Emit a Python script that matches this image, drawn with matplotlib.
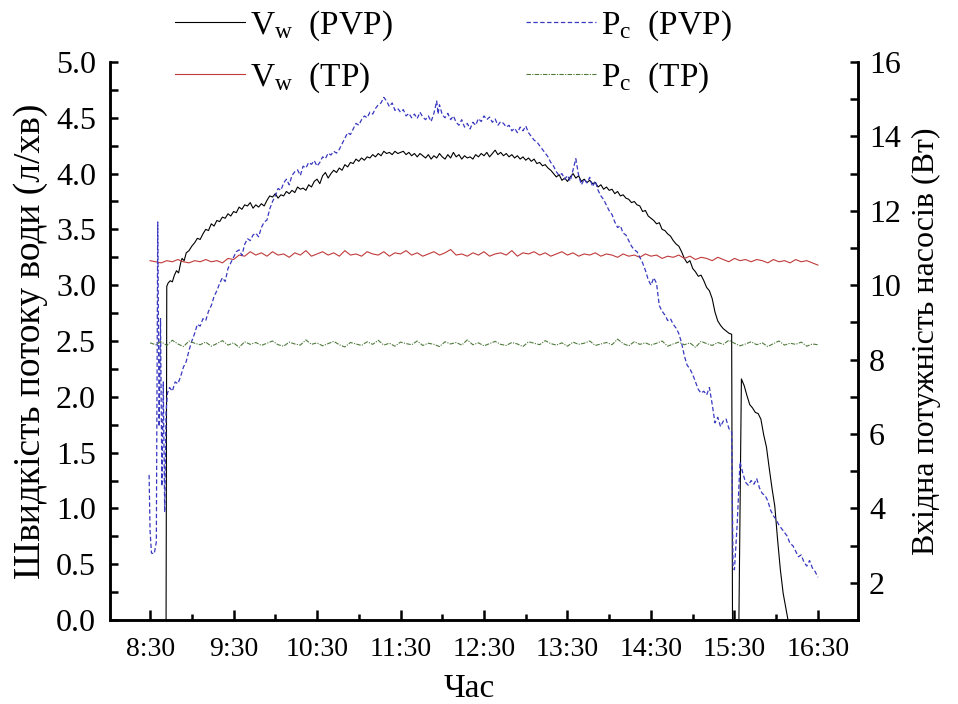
import numpy as np
import matplotlib
matplotlib.use('Agg')
import matplotlib.pyplot as plt
from matplotlib.ticker import MultipleLocator, FuncFormatter

plt.rcParams['font.family'] = ['Liberation Serif', 'DejaVu Serif']
plt.rcParams['mathtext.fontset'] = 'custom'
plt.rcParams['mathtext.rm'] = 'Liberation Serif'
plt.rcParams['mathtext.it'] = 'Liberation Serif'

# times are minutes after 8:00
# V_w (PVP), л/хв
vw_pvp_min = [41.5, 42, 43, 44.5, 46, 47.5, 49, 50.5, 52, 53, 54.5, 56, 58, 60, 62, 64, 66, 68, 70, 72,
              74, 76, 78, 80, 82, 84, 86, 88, 90, 92, 94, 96, 98, 100, 102, 104, 106, 108, 110, 112,
              114, 116, 118, 120, 122, 124, 126, 128, 130, 132, 134, 136, 138, 140, 142, 144, 146, 148, 150, 152,
              154, 156, 158, 160, 162, 164, 166, 168, 170, 172, 174, 176, 178, 180, 182, 184, 186, 188, 190, 192,
              194, 196, 198, 200, 202, 204, 206, 208, 210, 212, 214, 216, 218, 220, 222, 224, 226, 228, 230, 232,
              234, 236, 238, 240, 242, 244, 246, 248, 250, 252, 254, 256, 258, 260, 262, 264, 266, 268, 270, 272,
              274, 276, 278, 280, 282, 284, 286, 288, 290, 292, 294, 296, 298, 300, 302, 304, 306, 308, 310, 312,
              314, 316, 318, 320, 322, 324, 326, 328, 330, 332, 334, 336, 338, 340, 342, 344, 346, 348, 350, 352,
              354, 356, 358, 360, 362, 364, 366, 368, 370, 372, 374, 376, 378, 380, 382, 384, 386, 388, 390, 392,
              394, 396, 398, 400, 402, 404, 406, 408, 410, 412, 414, 416, 418, 420, 422, 424, 426, 428, 430, 432,
              434, 436, 438, 440, 442, 444, 446, 448, 448.6, 453.2, 455, 457, 459, 461, 463, 465, 467, 469, 471, 473,
              475, 477, 479, 481, 483, 485, 487, 488.5]
vw_pvp = [0.00, 2.99, 3.02, 3.04, 3.03, 3.09, 3.13, 3.11, 3.20, 3.24, 3.22, 3.29, 3.31, 3.35, 3.38, 3.42, 3.41, 3.46, 3.50, 3.49,
          3.55, 3.53, 3.58, 3.57, 3.61, 3.60, 3.64, 3.62, 3.66, 3.65, 3.70, 3.68, 3.72, 3.71, 3.74, 3.69, 3.72, 3.70, 3.73, 3.71,
          3.76, 3.80, 3.79, 3.82, 3.78, 3.81, 3.80, 3.84, 3.82, 3.85, 3.83, 3.88, 3.86, 3.87, 3.85, 3.90, 3.88, 3.93, 3.95, 3.91,
          3.98, 4.01, 3.96, 4.00, 4.03, 4.01, 4.05, 4.03, 4.08, 4.06, 4.10, 4.09, 4.13, 4.11, 4.14, 4.12, 4.15, 4.14, 4.17, 4.15,
          4.18, 4.16, 4.20, 4.18, 4.19, 4.17, 4.20, 4.18, 4.19, 4.20, 4.17, 4.19, 4.16, 4.18, 4.15, 4.18, 4.16, 4.14, 4.17, 4.13,
          4.16, 4.14, 4.18, 4.15, 4.13, 4.17, 4.14, 4.19, 4.15, 4.17, 4.13, 4.16, 4.14, 4.15, 4.13, 4.17, 4.15, 4.18, 4.16, 4.19,
          4.15, 4.18, 4.21, 4.17, 4.19, 4.16, 4.18, 4.15, 4.17, 4.14, 4.16, 4.13, 4.15, 4.12, 4.14, 4.11, 4.13, 4.09, 4.10, 4.07,
          4.08, 4.05, 4.03, 4.00, 3.97, 3.99, 3.94, 3.96, 3.93, 3.97, 4.00, 3.96, 3.98, 3.93, 3.95, 3.92, 3.94, 3.91, 3.92, 3.88,
          3.90, 3.86, 3.88, 3.85, 3.86, 3.82, 3.84, 3.80, 3.81, 3.78, 3.77, 3.74, 3.75, 3.72, 3.71, 3.66, 3.67, 3.62, 3.60, 3.58,
          3.55, 3.56, 3.50, 3.49, 3.46, 3.44, 3.40, 3.37, 3.35, 3.30, 3.24, 3.20, 3.22, 3.15, 3.12, 3.08, 3.09, 3.04, 2.98, 2.95,
          2.88, 2.76, 2.68, 2.64, 2.61, 2.59, 2.57, 2.56, 0.00, 0.00, 2.16, 2.10, 2.01, 1.93, 1.90, 1.86, 1.85, 1.80, 1.66, 1.55,
          1.36, 1.18, 1.02, 0.72, 0.45, 0.24, 0.10, 0.00]

# P_c (PVP), Вт
pc_pvp_min = [29.3, 30, 31, 33, 34.5, 35.5, 36.5, 37.5, 38.5, 39.5, 40.5, 41.5, 42.5, 44, 46, 48, 50, 52, 54, 56,
              58, 60, 62, 64, 66, 68, 70, 72, 74, 76, 78, 80, 82, 84, 86, 88, 90, 92, 94, 96,
              98, 100, 102, 104, 106, 108, 110, 112, 114, 116, 118, 120, 122, 124, 126, 128, 130, 132, 134, 136,
              138, 140, 142, 144, 146, 148, 150, 152, 154, 156, 158, 160, 162, 164, 166, 168, 170, 172, 174, 176,
              178, 180, 182, 184, 186, 188, 190, 192, 194, 196, 198, 200, 202, 204, 206, 208, 210, 212, 214, 216,
              218, 220, 222, 224, 226, 228, 230, 232, 234, 236, 237, 238, 240, 242, 244, 246, 248, 250, 252, 254,
              256, 258, 260, 262, 264, 266, 268, 270, 272, 274, 276, 278, 280, 282, 284, 286, 288, 290, 292, 294,
              296, 298, 300, 302, 304, 306, 308, 310, 312, 314, 316, 318, 320, 322, 324, 326, 328, 330, 332, 334,
              336, 338, 340, 342, 344, 346, 348, 350, 352, 354, 356, 358, 360, 362, 364, 366, 368, 370, 372, 374,
              376, 378, 380, 382, 384, 386, 388, 390, 392, 394, 396, 398, 400, 402, 404, 406, 408, 410, 412, 414,
              416, 418, 420, 422, 424, 426, 428, 430, 432, 434, 436, 438, 440, 442, 444, 446, 448, 449, 450, 452,
              454, 456, 458, 460, 462, 464, 466, 468, 470, 472, 474, 476, 478, 480, 482, 484, 486, 488, 490, 492,
              494, 496, 498, 500, 502, 504, 506, 508, 510]
pc_pvp = [4.90, 3.40, 2.80, 2.78, 3.10, 11.70, 6.20, 9.10, 4.60, 7.40, 3.90, 6.60, 7.10, 7.25, 7.15, 7.40, 7.35, 7.55, 7.80, 7.95,
          8.25, 8.50, 8.70, 8.95, 8.90, 9.10, 9.05, 9.30, 9.45, 9.70, 9.85, 10.05, 10.20, 10.10, 10.45, 10.60, 10.75, 10.90, 10.95, 10.80,
          11.10, 11.25, 11.20, 11.35, 11.40, 11.30, 11.55, 11.70, 11.75, 12.05, 12.25, 12.40, 12.60, 12.55, 12.75, 12.85, 12.70, 12.95, 13.05, 13.10,
          12.95, 13.20, 13.15, 13.30, 13.25, 13.35, 13.20, 13.30, 13.45, 13.40, 13.55, 13.50, 13.60, 13.55, 13.65, 13.80, 13.95, 14.10, 14.05, 14.20,
          14.35, 14.30, 14.45, 14.55, 14.50, 14.65, 14.60, 14.75, 14.85, 14.90, 15.05, 14.95, 14.80, 14.90, 14.70, 14.75, 14.65, 14.72, 14.55, 14.62,
          14.50, 14.60, 14.48, 14.65, 14.52, 14.45, 14.55, 14.40, 14.62, 14.95, 14.60, 14.85, 14.58, 14.50, 14.62, 14.45, 14.55, 14.38, 14.30, 14.45,
          14.25, 14.35, 14.20, 14.38, 14.30, 14.48, 14.40, 14.55, 14.45, 14.52, 14.38, 14.47, 14.30, 14.40, 14.35, 14.25, 14.30, 14.15, 14.22, 14.10,
          14.25, 14.15, 14.28, 14.10, 14.00, 13.90, 13.85, 13.75, 13.65, 13.55, 13.45, 13.30, 13.20, 13.05, 12.95, 13.00, 12.85, 12.95, 12.80, 13.10,
          13.40, 12.95, 12.70, 12.85, 12.75, 12.90, 12.65, 12.80, 12.55, 12.40, 12.30, 12.15, 12.00, 11.90, 11.70, 11.55, 11.60, 11.40, 11.35, 11.20,
          11.05, 10.95, 10.90, 10.75, 10.60, 10.40, 10.15, 10.00, 10.20, 10.05, 9.45, 9.30, 9.20, 9.05, 9.10, 8.95, 8.85, 8.70, 8.45, 8.10,
          7.85, 7.75, 7.60, 7.40, 7.20, 7.10, 7.15, 7.05, 7.25, 6.80, 6.30, 6.45, 6.20, 6.35, 6.40, 6.15, 6.05, 2.40, 2.35, 3.60,
          5.25, 4.95, 4.70, 4.62, 4.75, 4.65, 4.80, 4.55, 4.40, 4.35, 4.20, 3.95, 3.80, 3.70, 3.55, 3.45, 3.35, 3.25, 3.05, 3.00,
          2.85, 2.70, 2.75, 2.55, 2.45, 2.60, 2.40, 2.30, 2.15]

# TP series, every 4 min from 8:30 to 16:30
tp_min = np.arange(30, 511, 4)
vw_tp = [3.22, 3.21, 3.20, 3.22, 3.21, 3.23, 3.21, 3.20, 3.22, 3.21,
         3.23, 3.21, 3.22, 3.20, 3.24, 3.23, 3.27, 3.26, 3.30, 3.27,
         3.29, 3.26, 3.30, 3.27, 3.28, 3.25, 3.29, 3.27, 3.31, 3.26,
         3.28, 3.30, 3.27, 3.29, 3.26, 3.31, 3.27, 3.28, 3.26, 3.30,
         3.28, 3.27, 3.30, 3.26, 3.29, 3.28, 3.31, 3.27, 3.29, 3.26,
         3.28, 3.30, 3.27, 3.29, 3.32, 3.27, 3.28, 3.26, 3.29, 3.27,
         3.30, 3.26, 3.28, 3.29, 3.27, 3.31, 3.26, 3.29, 3.28, 3.30,
         3.27, 3.29, 3.26, 3.28, 3.30, 3.27, 3.29, 3.26, 3.28, 3.27,
         3.29, 3.26, 3.28, 3.27, 3.25, 3.28, 3.26, 3.27, 3.25, 3.28,
         3.26, 3.27, 3.24, 3.26, 3.25, 3.27, 3.24, 3.26, 3.23, 3.25,
         3.24, 3.22, 3.25, 3.23, 3.21, 3.24, 3.22, 3.23, 3.21, 3.23,
         3.22, 3.20, 3.23, 3.21, 3.22, 3.20, 3.23, 3.21, 3.22, 3.20,
         3.18]
pc_tp = [8.45, 8.40, 8.48, 8.38, 8.52, 8.42, 8.35, 8.50, 8.44, 8.40,
         8.47, 8.36, 8.43, 8.51, 8.39, 8.45, 8.33, 8.48, 8.41, 8.46,
         8.38, 8.44, 8.50, 8.40, 8.36, 8.47, 8.42, 8.39, 8.53, 8.41,
         8.45, 8.37, 8.43, 8.49, 8.40, 8.34, 8.46, 8.42, 8.38, 8.48,
         8.41, 8.52, 8.39, 8.44, 8.36, 8.47, 8.43, 8.40, 8.50, 8.38,
         8.44, 8.41, 8.35, 8.48, 8.42, 8.46, 8.39, 8.53, 8.40, 8.45,
         8.37, 8.43, 8.49, 8.41, 8.38, 8.46, 8.42, 8.35, 8.48, 8.44,
         8.40, 8.51, 8.43, 8.39, 8.45, 8.36, 8.47, 8.41, 8.44, 8.50,
         8.38, 8.42, 8.46, 8.40, 8.55, 8.43, 8.37, 8.48, 8.41, 8.45,
         8.39, 8.44, 8.50, 8.36, 8.42, 8.47, 8.40, 8.45, 8.33, 8.49,
         8.43, 8.38, 8.46, 8.41, 8.52, 8.44, 8.37, 8.42, 8.48, 8.40,
         8.45, 8.35, 8.43, 8.50, 8.39, 8.44, 8.41, 8.47, 8.36, 8.42,
         8.40]

time_labels = ['8:30', '9:30', '10:30', '11:30', '12:30', '13:30', '14:30', '15:30', '16:30']


def hours(mins):
    return 8 + np.asarray(mins, dtype=float) / 60


fig = plt.figure(figsize=(9.58, 7.04), dpi=100)
ax = fig.add_axes([110 / 958, 1 - 620 / 704, 748 / 958, 558 / 704])
ax2 = ax.twinx()

l1, = ax.plot(hours(vw_pvp_min), vw_pvp, color='black', lw=0.8)
l2, = ax.plot(hours(tp_min), vw_tp, color='#c03a3a', lw=0.8)
l3, = ax2.plot(hours(pc_pvp_min), pc_pvp, color='#3838c0', lw=0.9, ls=(0, (3.5, 2)))
l4, = ax2.plot(hours(tp_min), pc_tp, color='#4f7a3c', lw=0.8, ls=(0, (4, 1.2, 1, 1.2)))

ax.set_xlim(8.02, 16.98)
ax.set_ylim(0, 5.0)
ax2.set_ylim(1, 16)

ax.set_xticks([8.5 + i for i in range(9)])
ax.set_xticklabels(time_labels)
ax.set_xticks([9 + i for i in range(8)], minor=True)
ax.yaxis.set_major_locator(MultipleLocator(0.5))
ax.yaxis.set_minor_locator(MultipleLocator(0.25))
ax.yaxis.set_major_formatter(FuncFormatter(lambda v, p: f'{v:.1f}'))
ax2.yaxis.set_major_locator(MultipleLocator(2))
ax2.yaxis.set_minor_locator(MultipleLocator(1))

for a in (ax, ax2):
    a.spines['top'].set_visible(False)
    for s in ('left', 'right', 'bottom'):
        a.spines[s].set_linewidth(1.8)
ax.tick_params(axis='x', which='major', direction='in', length=7, width=1.8, labelsize=20, pad=12)
ax.tick_params(axis='x', which='minor', direction='in', length=4, width=1.8)
ax.tick_params(axis='y', which='both', direction='in', length=6, width=1.8, labelsize=23, pad=10)
ax2.tick_params(axis='y', which='both', direction='in', length=6, width=1.8, labelsize=23, pad=8)

ax.set_xlabel('Час', fontsize=24, labelpad=8)
ax.xaxis.set_label_coords(0.48, -0.095)
ax.set_ylabel('Швидкість потоку води (л/хв)', fontsize=27, labelpad=6)
ax2.set_ylabel('Вхідна потужність насосів (Вт)', fontsize=23, labelpad=8)

labels = [r'V$_\mathregular{w}$  (PVP)', r'V$_\mathregular{w}$  (TP)',
          r'P$_\mathregular{c}$  (PVP)', r'P$_\mathregular{c}$  (TP)']
fig.legend([l1, l2, l3, l4], labels, ncol=2, frameon=False, fontsize=24,
           loc='upper left', bbox_to_anchor=(175 / 958, 0.988), borderpad=0, borderaxespad=0,
           handlelength=2.1, handletextpad=0.15, columnspacing=4.0, labelspacing=0.52)

fig.savefig('out.png', dpi=100)
